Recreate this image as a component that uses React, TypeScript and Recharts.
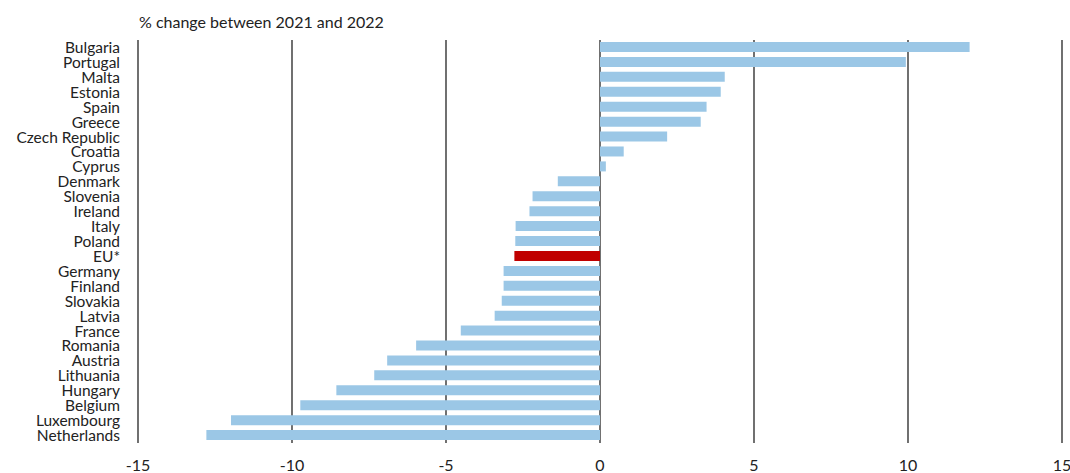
import { Bar, BarChart, CartesianGrid, Cell, XAxis, YAxis } from "recharts";

const COUNTRIES = [
  "Bulgaria", "Portugal", "Malta", "Estonia", "Spain", "Greece", "Czech Republic",
  "Croatia", "Cyprus", "Denmark", "Slovenia", "Ireland", "Italy", "Poland", "EU*",
  "Germany", "Finland", "Slovakia", "Latvia", "France", "Romania", "Austria",
  "Lithuania", "Hungary", "Belgium", "Luxembourg", "Netherlands",
];

const CHANGE = [
  12.0, 9.93, 4.05, 3.92, 3.46, 3.27, 2.18, 0.77, 0.19, -1.37, -2.19, -2.29, -2.74,
  -2.75, -2.78, -3.13, -3.13, -3.19, -3.42, -4.52, -5.97, -6.91, -7.33, -8.56, -9.73,
  -11.98, -12.78,
];

const X_TICKS = [-15, -10, -5, 0, 5, 10, 15];

const HIGHLIGHT = "EU*";

const data = COUNTRIES.map((country, i) => ({ country, value: CHANGE[i] }));

const FONT = "Lato, 'Noto Sans', sans-serif";

export default function App() {
  return (
    <div style={{ position: "absolute", left: 0, top: 0, width: 1070, height: 473, background: "#fff" }}>
      <div
        style={{
          position: "absolute",
          left: 139,
          top: 14,
          fontFamily: FONT,
          fontSize: 16,
          lineHeight: "16px",
          color: "#222",
          whiteSpace: "nowrap",
        }}
      >
        % change between 2021 and 2022
      </div>
      <BarChart
        width={1070}
        height={473}
        data={data}
        layout="vertical"
        margin={{ top: 40, right: 8, bottom: 0, left: 0 }}
        barCategoryGap={0}
      >
        <CartesianGrid horizontal={false} stroke="#111" strokeWidth={1.2} />
        <XAxis
          type="number"
          domain={[-15, 15]}
          ticks={X_TICKS}
          axisLine={false}
          tickLine={false}
          tickSize={0}
          tickMargin={17}
          height={30}
          tick={{ fill: "#222", fontSize: 16, fontFamily: FONT }}
          interval={0}
        />
        <YAxis
          type="category"
          dataKey="country"
          width={138}
          axisLine={false}
          tickLine={false}
          tickSize={0}
          tickMargin={18}
          interval={0}
          tick={{ fill: "#222", fontSize: 15.5, fontFamily: FONT }}
        />
        <Bar dataKey="value" barSize={10} isAnimationActive={false}>
          {data.map((d) => (
            <Cell key={d.country} fill={d.country === HIGHLIGHT ? "#c00000" : "#9bc7e6"} />
          ))}
        </Bar>
      </BarChart>
    </div>
  );
}
